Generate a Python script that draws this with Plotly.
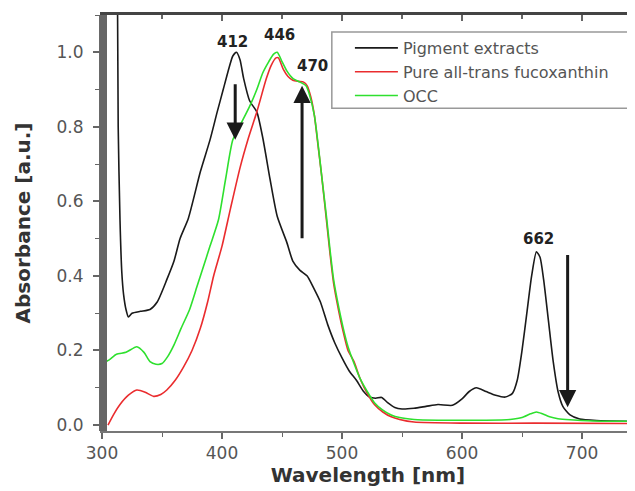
import plotly.graph_objects as go

# ---------------- data ----------------
pig_nm = [312.3, 313.5, 315, 316.5, 318, 320, 322, 325, 332, 340, 346, 354, 360, 365,
          372, 382, 390, 396, 401, 406, 409, 412, 415, 418, 423, 429, 434, 440, 446,
          454, 459, 465, 471, 476, 482, 488, 494, 500, 506, 512, 518, 523, 528, 533,
          538, 544, 550, 560, 570, 580, 592, 600, 606, 612, 620, 628, 636, 642, 646,
          650, 654, 658, 662, 665, 668, 672, 676, 680, 684, 690, 698, 712, 743]
pig_abs = [1.5, 0.8, 0.55, 0.41, 0.35, 0.31, 0.29, 0.30, 0.305, 0.31, 0.33, 0.39, 0.44, 0.50,
           0.555, 0.68, 0.765, 0.84, 0.90, 0.96, 0.99, 1.0, 0.98, 0.93, 0.87, 0.84, 0.77, 0.66, 0.56,
           0.49, 0.44, 0.415, 0.40, 0.37, 0.33, 0.27, 0.22, 0.18, 0.145, 0.12, 0.09, 0.075, 0.072, 0.074,
           0.06, 0.047, 0.043, 0.045, 0.05, 0.055, 0.053, 0.07, 0.09, 0.10, 0.09, 0.08, 0.075, 0.085, 0.12,
           0.20, 0.30, 0.40, 0.465, 0.45, 0.39, 0.28, 0.17, 0.09, 0.05, 0.027, 0.016, 0.012, 0.01]

fuco_nm = [305, 310, 315, 322, 329, 336, 343, 349, 354, 361, 368, 375, 382, 388, 393, 400,
           407, 415, 422, 429, 437, 441, 445, 447, 451, 455, 459, 464, 468, 471, 474, 477,
           480, 483, 487, 490, 493, 497, 501, 505, 510, 515, 521, 527, 534, 541, 548, 560,
           600, 660, 743]
fuco_abs = [0.0, 0.03, 0.055, 0.08, 0.094, 0.088, 0.077, 0.082, 0.094, 0.12, 0.156, 0.20, 0.26,
            0.33, 0.40, 0.48, 0.58, 0.69, 0.77, 0.84, 0.93, 0.965, 0.985, 0.985, 0.955, 0.935,
            0.925, 0.922, 0.92, 0.91, 0.88, 0.83, 0.75, 0.67, 0.55, 0.46, 0.38, 0.31, 0.25, 0.20,
            0.17, 0.125, 0.085, 0.055, 0.035, 0.022, 0.015, 0.008, 0.005, 0.005, 0.004]

occ_nm = [300, 306, 312, 320, 329, 335, 340, 345, 350, 355, 360, 366, 373, 379, 384, 390, 397,
          403, 409, 416, 423, 429, 434, 439, 443, 446, 450, 454, 459, 465, 470, 473, 477, 480,
          483, 487, 490, 493, 497, 501, 505, 510, 515, 521, 527, 534, 541, 548, 560, 580, 620,
          640, 650, 657, 662, 667, 673, 680, 690, 710, 743]
occ_abs = [0.165, 0.175, 0.19, 0.195, 0.21, 0.195, 0.17, 0.163, 0.165, 0.185, 0.215, 0.26, 0.31,
           0.37, 0.42, 0.48, 0.55, 0.66, 0.765, 0.81, 0.855, 0.90, 0.945, 0.975, 0.995, 1.0, 0.975,
           0.95, 0.93, 0.92, 0.91, 0.885, 0.83, 0.755, 0.67, 0.56, 0.47, 0.39, 0.32, 0.26, 0.21,
           0.165, 0.125, 0.09, 0.06, 0.04, 0.027, 0.02, 0.015, 0.013, 0.013, 0.015, 0.02, 0.03,
           0.035, 0.03, 0.022, 0.017, 0.014, 0.011, 0.01]

series_names = ["Pigment extracts", "Pure all-trans fucoxanthin", "OCC"]
series_colors = ["#1a1a1a", "#ea2c2e", "#2ee02e"]

peak_labels = ["412", "446", "470", "662"]
peak_label_x = [408.7, 447.5, 475, 664]
peak_label_y = [1.027, 1.047, 0.964, 0.50]

# arrows: (x, tail y, head y)
arrow_x = [411, 466.7, 688]
arrow_tail = [0.918, 0.497, 0.46]
arrow_head = [0.765, 0.91, 0.048]

x_range = [300, 743.3]
y_range = [-0.016, 1.1]
x_ticks = [300, 400, 500, 600, 700]
y_ticks = [0, 0.2, 0.4, 0.6, 0.8, 1.0]

# ---------------- figure ----------------
fig = go.Figure()
for xs, ys, name, col in zip([pig_nm, fuco_nm, occ_nm], [pig_abs, fuco_abs, occ_abs],
                             series_names, series_colors):
    fig.add_trace(go.Scatter(x=xs, y=ys, mode="lines", name=name,
                             line=dict(color=col, width=1.6, shape="spline", smoothing=0.6)))

# empty helper trace so the mirrored top/right axes get drawn
fig.add_trace(go.Scatter(x=[None], y=[None], xaxis="x2", yaxis="y2",
                         showlegend=False, hoverinfo="skip"))

for t, x, y in zip(peak_labels, peak_label_x, peak_label_y):
    fig.add_annotation(x=x, y=y, text=f"<b>{t}</b>", showarrow=False,
                       font=dict(family="DejaVu Sans", size=15, color="#222"))

for x, yt, yh in zip(arrow_x, arrow_tail, arrow_head):
    fig.add_annotation(x=x, y=yh, ax=x, ay=yt, axref="x", ayref="y", xref="x", yref="y",
                       text="", showarrow=True, arrowhead=2, arrowsize=1.15, arrowwidth=3,
                       arrowcolor="#1a1a1a", standoff=0, startstandoff=0)

# legend frame
fig.add_shape(type="rect", xref="paper", yref="paper", x0=0.432, x1=1.004,
              y0=0.776, y1=0.959, line=dict(color="#999", width=1.5),
              fillcolor="white", layer="above")
# heavy left frame band
fig.add_shape(type="rect", xref="paper", yref="paper", x0=-0.0056, x1=0.0094,
              y0=0, y1=1, line=dict(width=0), fillcolor="#666", layer="above")

tickfont = dict(family="DejaVu Sans", size=17, color="#555")
titlefont = dict(family="DejaVu Sans", size=20, color="#333", weight="bold")

fig.update_layout(
    width=627, height=483,
    margin=dict(l=94, r=1, t=7, b=60, autoexpand=False),
    plot_bgcolor="white", paper_bgcolor="white",
    showlegend=True,
    legend=dict(x=0.466, y=0.9615, xanchor="left", yanchor="top",
                bgcolor="rgba(0,0,0,0)", borderwidth=0,
                font=dict(family="DejaVu Sans", size=16, color="#555"),
                itemwidth=43, tracegroupgap=0),
    xaxis=dict(range=x_range, tickvals=x_ticks, ticks="outside", automargin=False,
               ticklen=6, tickwidth=1.5, tickcolor="#666", showline=True, linewidth=2,
               linecolor="#777", showgrid=False, zeroline=False, tickfont=tickfont,
               minor=dict(dtick=50, ticks="outside", ticklen=4, tickcolor="#666", tickwidth=1.2),
               title=dict(text="Wavelength [nm]", font=titlefont, standoff=0)),
    yaxis=dict(range=y_range, tickvals=y_ticks, tickformat=".1f", automargin=False,
               ticks="outside", ticklen=7, tickwidth=1.5, tickcolor="#666", showline=True,
               linewidth=2, linecolor="#555", showgrid=False, zeroline=False, tickfont=tickfont,
               ticklabelstandoff=6,
               minor=dict(dtick=0.1, ticks="outside", ticklen=5, tickcolor="#666", tickwidth=1.2),
               title=dict(text="Absorbance [a.u.]", font=titlefont, standoff=21)),
    xaxis2=dict(range=x_range, overlaying="x", side="top", showticklabels=False,
                automargin=False, tickvals=x_ticks, ticks="inside", ticklen=6, tickwidth=1.5,
                tickcolor="#666", showline=True, linewidth=2.5, linecolor="#444",
                showgrid=False, zeroline=False,
                minor=dict(dtick=50, ticks="inside", ticklen=4, tickcolor="#666")),
    yaxis2=dict(range=y_range, overlaying="y", side="right", showticklabels=False,
                automargin=False, tickvals=y_ticks, ticks="inside", ticklen=6,
                tickwidth=1.5, tickcolor="#888", showline=False, showgrid=False,
                zeroline=False),
)

fig.write_html("out.html")
